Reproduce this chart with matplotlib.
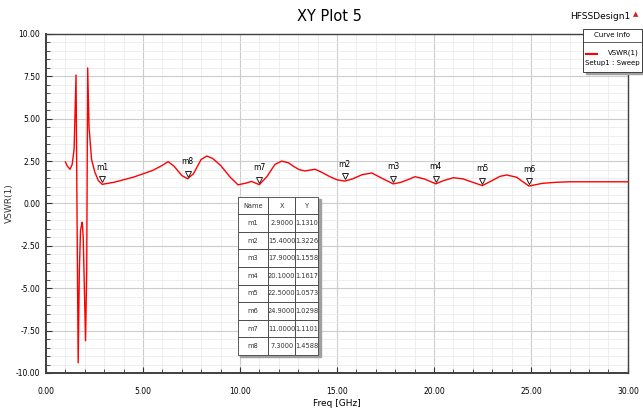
import matplotlib.pyplot as plt
from matplotlib.patches import Rectangle
from matplotlib.ticker import MultipleLocator, FormatStrFormatter
import matplotlib.transforms as mtransforms

plt.rcParams['font.family'] = ['Liberation Sans Narrow', 'DejaVu Sans']

# curve VSWR(1)
freq = [1.0, 1.1, 1.24, 1.35, 1.45, 1.55, 1.61, 1.66, 1.72, 1.78, 1.83, 1.87,
        1.92, 1.97, 2.04, 2.1, 2.15, 2.22, 2.35, 2.52, 2.7, 2.9, 3.5, 4.5,
        5.5, 6.0, 6.3, 6.6, 7.0, 7.3, 7.6, 8.0, 8.3, 8.6, 9.0, 9.5, 9.9,
        10.3, 10.6, 11.0, 11.4, 11.8, 12.15, 12.5, 12.75, 13.05, 13.35, 13.87,
        14.2, 14.64, 15.0, 15.4, 15.8, 16.3, 16.8, 17.3, 17.9, 18.3, 18.76,
        19.02, 19.5, 20.1, 20.5, 21.0, 21.5, 22.0, 22.5, 23.0, 23.4, 23.75,
        24.26, 24.9, 25.6, 26.3, 27.0, 28.0, 30.0]
vswr = [2.45, 2.2, 2.02, 2.3, 3.2, 7.58, -2.0, -9.4, -4.0, -1.6, -1.3, -1.1,
        -2.0, -4.5, -8.1, -4.0, 8.0, 4.5, 2.6, 1.85, 1.35, 1.13, 1.25, 1.55,
        1.95, 2.25, 2.47, 2.2, 1.65, 1.46, 1.75, 2.6, 2.8, 2.65, 2.25, 1.55, 1.1,
        1.2, 1.3, 1.11, 1.6, 2.3, 2.5, 2.4, 2.2, 2.0, 1.92, 2.02,
        1.85, 1.58, 1.4, 1.32, 1.45, 1.7, 1.8, 1.5, 1.156, 1.25, 1.45,
        1.58, 1.45, 1.16, 1.35, 1.52, 1.45, 1.25, 1.057, 1.35, 1.6, 1.68,
        1.55, 1.03, 1.19, 1.25, 1.28, 1.28, 1.28]

# markers
m_names = ['m1', 'm2', 'm3', 'm4', 'm5', 'm6', 'm7', 'm8']
m_x = [2.9, 15.4, 17.9, 20.1, 22.5, 24.9, 11.0, 7.3]
m_y = [1.1310, 1.3226, 1.1558, 1.1617, 1.0573, 1.0298, 1.1101, 1.4588]

fig = plt.figure(figsize=(6.43, 4.12), dpi=100)
ax = fig.add_axes([0.0715, 0.0947, 0.905, 0.8228])

ax.plot(freq, vswr, color='#ff0000', lw=1.0, zorder=3)

ax.set_xlim(0, 30)
ax.set_ylim(-10, 10)
ax.xaxis.set_major_locator(MultipleLocator(5))
ax.xaxis.set_minor_locator(MultipleLocator(1))
ax.yaxis.set_major_locator(MultipleLocator(2.5))
ax.yaxis.set_minor_locator(MultipleLocator(0.5))
ax.xaxis.set_major_formatter(FormatStrFormatter('%.2f'))
ax.yaxis.set_major_formatter(FormatStrFormatter('%.2f'))
ax.grid(which='major', color='#cccccc', lw=0.8)
ax.grid(which='minor', color='#ebebeb', lw=0.6)
ax.set_axisbelow(True)
ax.tick_params(which='both', direction='in', labelsize=5.5, color='#333333')
ax.tick_params(which='major', length=4)
ax.tick_params(which='minor', length=3)
ax.tick_params(axis='x', pad=10)
ax.tick_params(axis='y', pad=4)
for s in ax.spines.values():
    s.set_color('#404040')
    s.set_linewidth(1.0)
ax.spines['left'].set_linewidth(1.4)
ax.spines['bottom'].set_linewidth(1.4)

ax.set_xlabel('Freq [GHz]', fontsize=6.5)
ax.xaxis.set_label_coords(0.5, -0.078)
ax.set_ylabel('VSWR(1)', fontsize=6.5, color='#333333')
ax.yaxis.set_label_coords(-0.055, 0.5)

# marker triangles and labels
tri = mtransforms.offset_copy(ax.transData, fig=fig, x=0, y=3.5, units='points')
lab = mtransforms.offset_copy(ax.transData, fig=fig, x=0, y=9, units='points')
for n, x, y in zip(m_names, m_x, m_y):
    ax.plot(x, y, marker='v', ms=5, mfc='white', mec='#222222', mew=0.7,
            transform=tri, zorder=4)
    ax.text(x, y, n, transform=lab, fontsize=5.5, ha='center', va='bottom', zorder=4)

# marker table
rows = [[n, '%.4f' % x, '%.4f' % y] for n, x, y in zip(m_names, m_x, m_y)]
tx0, tx1, ty0, ty1 = 0.330, 0.468, 0.053, 0.520
shadow = Rectangle((tx0 + 0.004, ty0 - 0.007), tx1 - tx0, ty1 - ty0,
                   transform=ax.transAxes, color='#a0a0a0', zorder=5)
ax.add_patch(shadow)
tbl = ax.table(cellText=rows, colLabels=['Name', 'X', 'Y'],
               colWidths=[0.375, 0.3375, 0.2875], cellLoc='center',
               bbox=[tx0, ty0, tx1 - tx0, ty1 - ty0], zorder=6)
tbl.auto_set_font_size(False)
tbl.set_fontsize(4.8)
for cell in tbl.get_celld().values():
    cell.set_edgecolor('#404040')
    cell.set_linewidth(0.6)
    cell.set_facecolor('white')
    cell.PAD = 0.02
    cell.get_text().set_color('#333333')

# title and design name
fig.text(0.513, 0.961, 'XY Plot 5', ha='center', va='center', fontsize=10.5)
fig.text(0.933, 0.961, 'HFSSDesign1', ha='center', va='center', fontsize=6.5)
fig.text(0.989, 0.966, '\u25b2', ha='center', va='center', fontsize=5, color='#d02020')

# curve info box
lx0, lx1, ly0, ly1 = 0.9067, 0.9984, 0.8252, 0.9296
fig.patches.append(Rectangle((lx0 + 0.004, ly0 - 0.006), lx1 - lx0, ly1 - ly0,
                             transform=fig.transFigure, color='#a0a0a0', zorder=8))
fig.patches.append(Rectangle((lx0, ly0), lx1 - lx0, ly1 - ly0, transform=fig.transFigure,
                             facecolor='white', edgecolor='#404040', lw=0.7, zorder=9))
fig.lines.append(plt.Line2D([lx0, lx1], [0.898, 0.898], transform=fig.transFigure,
                            color='#404040', lw=0.6, zorder=10))
fig.lines.append(plt.Line2D([0.911, 0.928], [0.869, 0.869], transform=fig.transFigure,
                            color='#ff0000', lw=1.5, zorder=10))
fig.text(0.952, 0.914, 'Curve Info', ha='center', va='center', fontsize=5, zorder=11)
fig.text(0.993, 0.871, 'VSWR(1)', ha='right', va='center', fontsize=5, zorder=11)
fig.text(0.952, 0.847, 'Setup1 : Sweep', ha='center', va='center', fontsize=5, zorder=11)

fig.savefig('out.png', dpi=100)
